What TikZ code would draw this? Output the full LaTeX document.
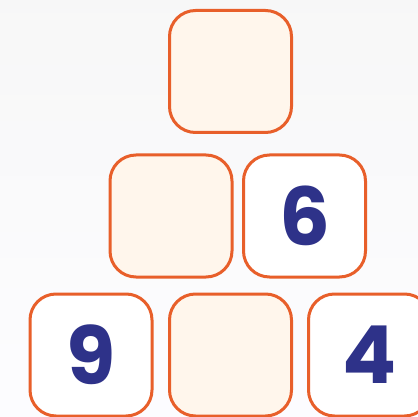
\documentclass[tikz,border=0pt]{standalone}
\usepackage{fontspec}
\newfontfamily\numfont{Poppins}[UprightFont=* Bold, BoldFont=* Bold]
\usetikzlibrary{positioning}

\definecolor{rim}{HTML}{E85F2A}
\definecolor{cream}{HTML}{FFF6EC}
\definecolor{ink}{HTML}{2E3289}

\begin{document}
\begin{tikzpicture}[
  x=1pt, y=-1pt,
  cell/.style={draw=rim, line width=3pt, rounded corners=26pt,
               minimum width=122pt, minimum height=122pt, inner sep=0pt,
               fill=white, text=ink, font=\numfont\fontsize{80}{80}\selectfont},
  blank/.style={cell, fill=cream},
]
% background
\shade[top color=black!3, bottom color=black!7!blue!1!white] (0,0) rectangle (418,417);
\useasboundingbox (0,0) rectangle (418,417);

\node[blank] (top)   at (230.5,71.5) {};
\node[blank] (midL)  at (171,216) {};
\node[cell]  (midR)  at (304.5,216) {6};
\node[cell]  (botL)  at (91,355) {9};
\node[blank] (botM)  at (230.5,355) {};
\node[cell]  (botR)  at (369.5,355) {4};
\end{tikzpicture}
\end{document}
